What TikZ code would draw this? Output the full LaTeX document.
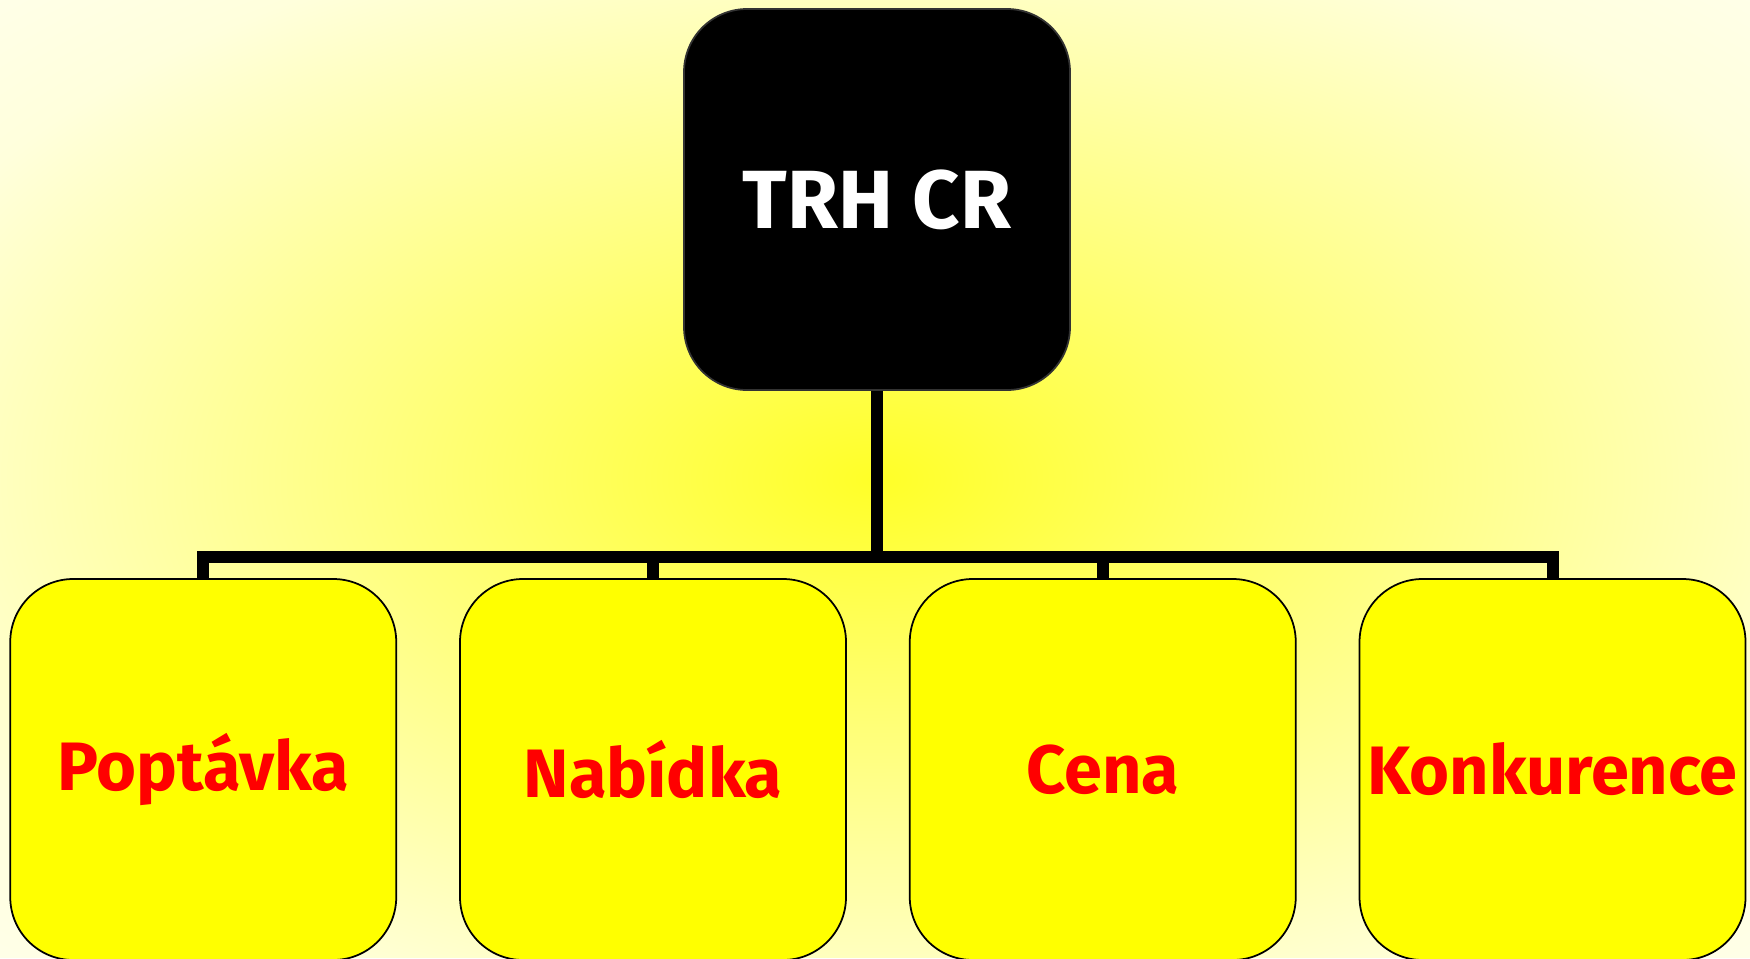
\documentclass[tikz,border=0pt]{standalone}
\usepackage{fontspec}
\setmainfont{Fira Sans}
\usepackage{tikz}
\usetikzlibrary{positioning}
\definecolor{boxyellow}{RGB}{255,255,0}
\definecolor{boxred}{RGB}{255,0,0}
\definecolor{glowcore}{RGB}{255,255,40}
\definecolor{glowmid}{RGB}{255,255,120}
\definecolor{glowpale}{RGB}{255,255,220}
\pgfdeclareradialshading{glow}{\pgfpoint{0bp}{0bp}}{color(0bp)=(glowcore); color(13bp)=(glowmid); color(30bp)=(glowpale); color(46bp)=(white)}

\begin{document}
\begin{tikzpicture}[rootbox/.style={rectangle, rounded corners=6.3mm, draw=black!80, fill=black, line width=0.5pt, minimum width=38.6mm, minimum height=38.1mm, text=white, font=\fontsize{23.5}{27}\selectfont\bfseries}, itembox/.style={rectangle, rounded corners=6.3mm, draw=black, fill=boxyellow, line width=0.5pt, minimum width=38.6mm, minimum height=38.1mm, inner sep=0pt, text=boxred, font=\fontsize{19.5}{23}\selectfont\bfseries}, link/.style={line width=3.4pt, draw=black}]

    %Background
    \useasboundingbox (0,0) rectangle (17.5,-9.58);
    \begin{scope}[yscale=0.5474]
        \shade[shading=glow] (0,0) rectangle (17.5,-17.5);
    \end{scope}

    %Nodes
    \node[rootbox](trh) at (8.77,-1.995){TRH CR};
    \node[itembox](nabidka) at (6.53,-7.695){Nabídka};
    \node[itembox](poptavka)[left=0.62cm of nabidka]{Poptávka};
    \node[itembox](cena)[right=0.62cm of nabidka]{Cena};
    \node[itembox](konkurence)[right=0.62cm of cena]{Konkurence};
    \coordinate[below=1.66cm of trh.south](fork);

    %Lines
    \foreach \item in {poptavka, nabidka, cena, konkurence}
        \draw[link] (trh.south) -- (fork) -| (\item.north);

\end{tikzpicture}
\end{document}
